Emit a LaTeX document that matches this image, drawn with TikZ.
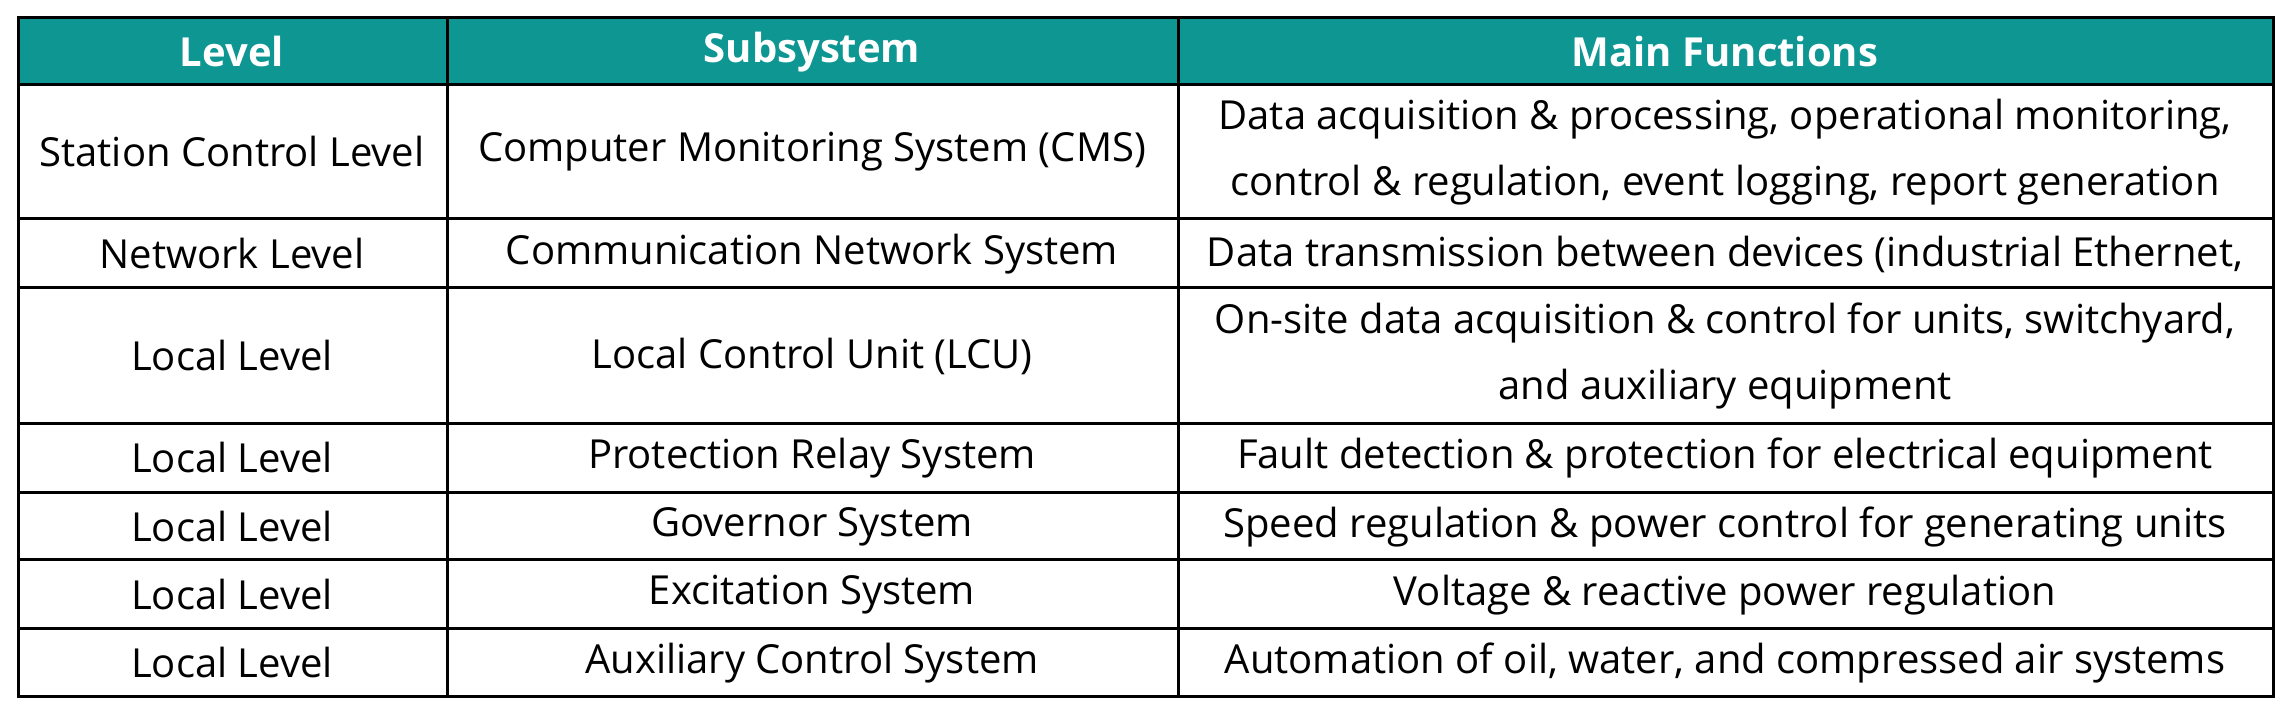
\documentclass[tikz,border=0pt]{standalone}
\usepackage{fontspec}
\setmainfont{Open Sans}
\definecolor{headteal}{RGB}{13,150,146}
\tikzset{
  cell/.style={font=\fontsize{12}{19.7}\selectfont, align=center},
  headcell/.style={font=\fontsize{12}{14}\selectfont\bfseries, text=white},
}
\begin{document}
\begin{tikzpicture}[x=0.3pt,y=0.3pt,yscale=-1,xscale=1]
\path[use as bounding box] (0,0) rectangle (2292,712);

% header band
\fill[headteal] (18,18) rectangle (2273,85);
% grid
\draw[line width=0.9pt] (18,18) rectangle (2273,697);
\foreach \y in {85,219,288,424,493,560,629} \draw[line width=0.9pt] (18,\y) -- (2273,\y);
\foreach \x in {447,1178} \draw[line width=0.9pt] (\x,18) -- (\x,697);

\node[headcell] (hLevel) at (232,52) {Level};
\node[headcell] (hSub) at (812,52) {Subsystem};
\node[headcell] (hFun) at (1725,52) {Main Functions};

\node[cell] (l1) at (232,152) {Station Control Level};
\node[cell] (s1) at (812,152) {Computer Monitoring System (CMS)};
\node[cell] (f1) at (1725,152) {Data acquisition \& processing, operational monitoring,\\control \& regulation, event logging, report generation};

\node[cell] (l2) at (232,254) {Network Level};
\node[cell] (s2) at (812,254) {Communication Network System};
\node[cell] (f2) at (1725,254) {Data transmission between devices (industrial Ethernet,};

\node[cell] (l3) at (232,356) {Local Level};
\node[cell] (s3) at (812,356) {Local Control Unit (LCU)};
\node[cell] (f3) at (1725,356) {On-site data acquisition \& control for units, switchyard,\\and auxiliary equipment};

\node[cell] (l4) at (232,458) {Local Level};
\node[cell] (s4) at (812,458) {Protection Relay System};
\node[cell] (f4) at (1725,458) {Fault detection \& protection for electrical equipment};

\node[cell] (l5) at (232,527) {Local Level};
\node[cell] (s5) at (812,527) {Governor System};
\node[cell] (f5) at (1725,527) {Speed regulation \& power control for generating units};

\node[cell] (l6) at (232,595) {Local Level};
\node[cell] (s6) at (812,595) {Excitation System};
\node[cell] (f6) at (1725,595) {Voltage \& reactive power regulation};

\node[cell] (l7) at (232,663) {Local Level};
\node[cell] (s7) at (812,663) {Auxiliary Control System};
\node[cell] (f7) at (1725,663) {Automation of oil, water, and compressed air systems};

\end{tikzpicture}
\end{document}
